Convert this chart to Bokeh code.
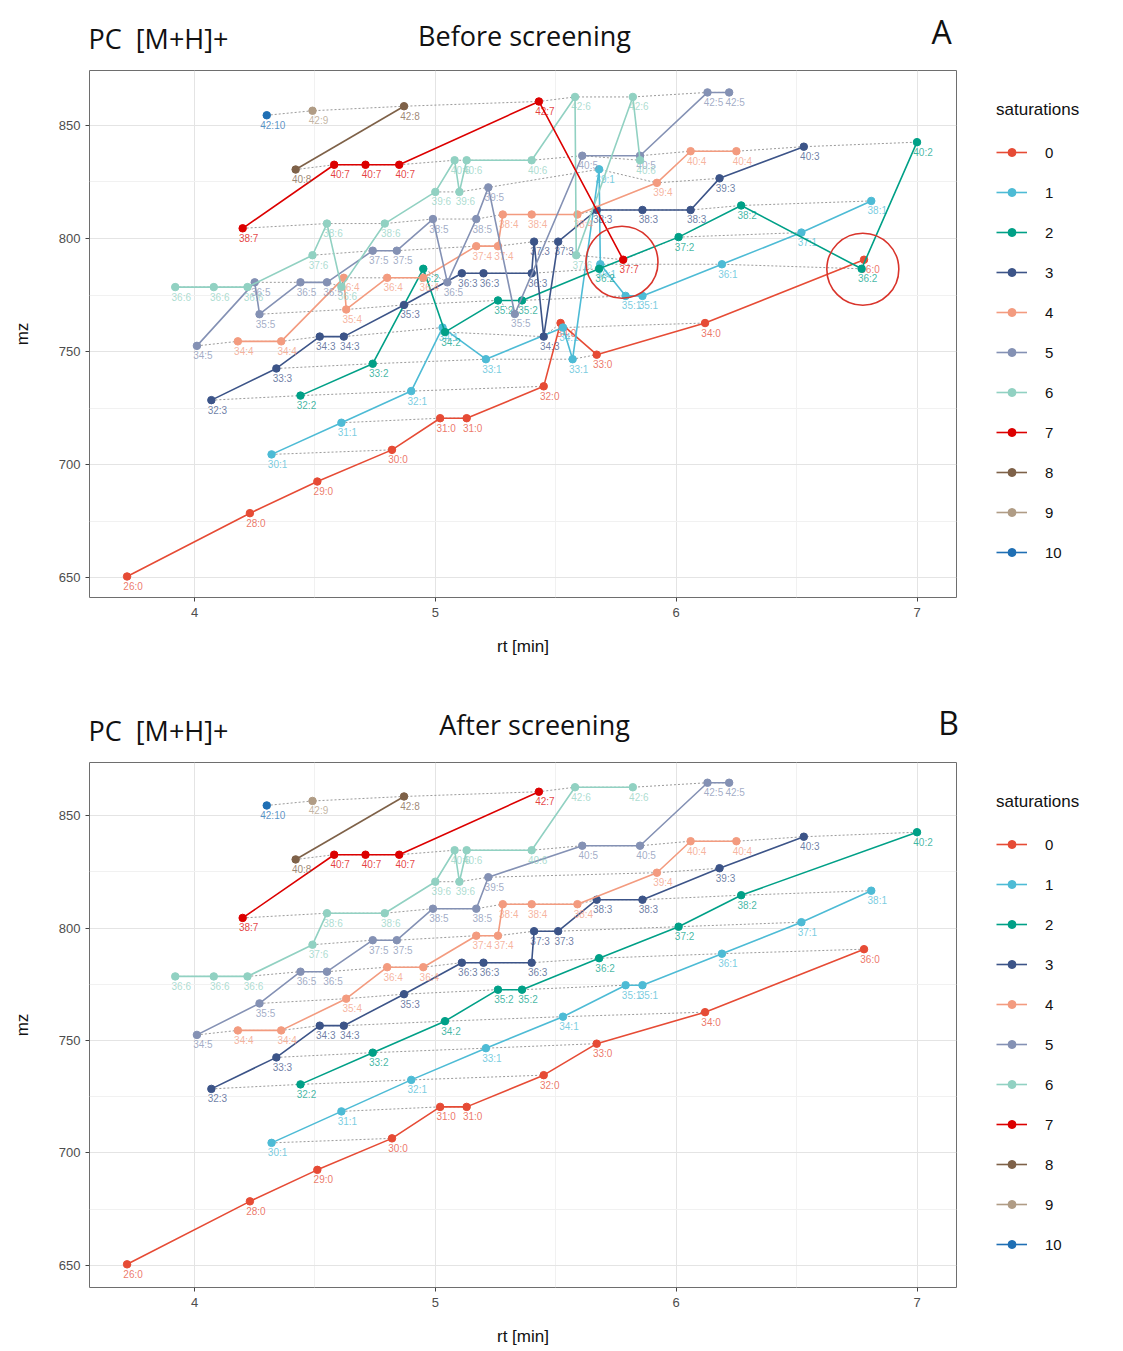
from bokeh.plotting import figure
from bokeh.models import ColumnDataSource, Legend, LegendItem, Label, FixedTicker, Range1d
from bokeh.layouts import column, row
from bokeh.embed import file_html
from bokeh.resources import INLINE
from bokeh.core.properties import value

# ---------------- data ----------------
SATURATIONS = [0, 1, 2, 3, 4, 5, 6, 7, 8, 9, 10]
PALETTE = ["#E64B35", "#4DBBD5", "#00A087", "#3C5488", "#F39B7F", "#8491B4",
           "#91D1C2", "#DC0000", "#7E6148", "#B09C85", "#1F6FB4"]

# After screening (kept features): retention time, m/z, carbon number
RT_0 = [3.72, 4.23, 4.51, 4.82, 5.02, 5.13, 5.45, 5.67, 6.12, 6.78]
MZ_0 = [650.5, 678.5, 692.5, 706.5, 720.5, 720.5, 734.6, 748.6, 762.6, 790.6]
C_0 = [26, 28, 29, 30, 31, 31, 32, 33, 34, 36]

RT_1 = [4.32, 4.61, 4.90, 5.21, 5.53, 5.79, 5.86, 6.19, 6.52, 6.81]
MZ_1 = [704.5, 718.5, 732.5, 746.6, 760.6, 774.6, 774.6, 788.6, 802.6, 816.6]
C_1 = [30, 31, 32, 33, 34, 35, 35, 36, 37, 38]

RT_2 = [4.44, 4.74, 5.04, 5.26, 5.36, 5.68, 6.01, 6.27, 7.00]
MZ_2 = [730.5, 744.6, 758.6, 772.6, 772.6, 786.6, 800.6, 814.6, 842.6]
C_2 = [32, 33, 34, 35, 35, 36, 37, 38, 40]

RT_3 = [4.07, 4.34, 4.52, 4.62, 4.87, 5.11, 5.20, 5.40, 5.41, 5.51, 5.67, 5.86, 6.18, 6.53]
MZ_3 = [728.5, 742.5, 756.6, 756.6, 770.6, 784.6, 784.6, 784.6, 798.6, 798.6, 812.6, 812.6, 826.6, 840.6]
C_3 = [32, 33, 34, 34, 35, 36, 36, 36, 37, 37, 38, 38, 39, 40]

RT_4 = [4.18, 4.36, 4.63, 4.80, 4.95, 5.17, 5.26, 5.28, 5.40, 5.59, 5.92, 6.06, 6.25]
MZ_4 = [754.5, 754.5, 768.6, 782.6, 782.6, 796.6, 796.6, 810.6, 810.6, 810.6, 824.6, 838.6, 838.6]
C_4 = [34, 34, 35, 36, 36, 37, 37, 38, 38, 38, 39, 40, 40]

RT_5 = [4.01, 4.27, 4.44, 4.55, 4.74, 4.84, 4.99, 5.17, 5.22, 5.61, 5.85, 6.13, 6.22]
MZ_5 = [752.5, 766.5, 780.6, 780.6, 794.6, 794.6, 808.6, 808.6, 822.6, 836.6, 836.6, 864.6, 864.6]
C_5 = [34, 35, 36, 36, 37, 37, 38, 38, 39, 40, 40, 42, 42]

RT_6 = [3.92, 4.08, 4.22, 4.49, 4.55, 4.79, 5.00, 5.08, 5.10, 5.13, 5.40, 5.58, 5.82]
MZ_6 = [778.5, 778.5, 778.5, 792.6, 806.6, 806.6, 820.6, 834.6, 820.6, 834.6, 834.6, 862.6, 862.6]
C_6 = [36, 36, 36, 37, 38, 38, 39, 40, 39, 40, 40, 42, 42]

RT_7 = [4.20, 4.58, 4.71, 4.85, 5.43]
MZ_7 = [804.5, 832.6, 832.6, 832.6, 860.6]
C_7 = [38, 40, 40, 40, 42]

RT_8 = [4.42, 4.87]
MZ_8 = [830.5, 858.5]
C_8 = [40, 42]

RT_9 = [4.49]
MZ_9 = [856.5]
C_9 = [42]

RT_10 = [4.30]
MZ_10 = [854.5]
C_10 = [42]

# Features removed by the screening (only in panel A)
EXTRA_SAT = [0, 1, 1, 1, 1, 2, 2, 3, 3, 4, 5, 5, 5, 6, 6, 6, 7]
EXTRA_RT = [5.52, 5.03, 5.57, 5.68, 5.685, 4.95, 6.77, 5.45, 6.06, 4.62, 4.25, 5.05, 5.33, 4.61, 5.585, 5.85, 5.78]
EXTRA_MZ = [762.6, 760.6, 746.6, 830.6, 788.6, 786.6, 786.6, 756.6, 812.6, 782.6, 780.6, 780.6, 766.6, 778.6, 792.6, 834.6, 790.6]
EXTRA_C = [34, 34, 33, 39, 36, 36, 36, 34, 38, 36, 36, 36, 35, 36, 37, 40, 37]

# highlighted outliers (red rings in panel A)
CIRCLE_RT = [5.775, 6.775]
CIRCLE_MZ = [789.5, 786.4]

X_TICKS = [4, 5, 6, 7]
Y_TICKS = [650, 700, 750, 800, 850]

RT_B = [RT_0, RT_1, RT_2, RT_3, RT_4, RT_5, RT_6, RT_7, RT_8, RT_9, RT_10]
MZ_B = [MZ_0, MZ_1, MZ_2, MZ_3, MZ_4, MZ_5, MZ_6, MZ_7, MZ_8, MZ_9, MZ_10]
C_B = [C_0, C_1, C_2, C_3, C_4, C_5, C_6, C_7, C_8, C_9, C_10]


def build_series(with_extra):
    series = {}
    for s in SATURATIONS:
        pts = list(zip(RT_B[s], MZ_B[s], C_B[s]))
        if with_extra:
            for es, er, em, ec in zip(EXTRA_SAT, EXTRA_RT, EXTRA_MZ, EXTRA_C):
                if es == s:
                    pts.append((er, em, ec))
        pts.sort(key=lambda t: t[0])
        series[s] = pts
    return series


X0, X1 = 3.564, 7.164
PLOT_W = 960
LEG_W = 1123 - PLOT_W


def blank(width, height, left=0):
    f = figure(width=width, height=height, x_range=Range1d(0, width), y_range=Range1d(0, height),
               output_backend="svg", toolbar_location=None, tools="",
               min_border=0, min_border_left=left, min_border_right=0,
               min_border_top=0, min_border_bottom=0)
    f.xaxis.visible = False
    f.yaxis.visible = False
    f.grid.visible = False
    f.outline_line_color = None
    f.background_fill_color = "white"
    f.border_fill_color = "white"
    return f


def make_header(height, tag, subtitle, pos):
    h = blank(1123, height)
    (x1, y1), (x2, y2), (x3, y3) = pos
    h.add_layout(Label(x=x1, y=height - y1, text="PC\u00a0 [M+H]+", text_font="Open Sans",
                       text_font_size="27px", text_color="#111111", text_baseline="middle",
                       text_align="left"))
    h.add_layout(Label(x=x2, y=height - y2, text=subtitle, text_font="Open Sans",
                       text_font_size="27px", text_color="#111111", text_baseline="middle",
                       text_align="center"))
    h.add_layout(Label(x=x3, y=height - y3, text=tag, text_font="Open Sans",
                       text_font_size="32px", text_color="#111111", text_baseline="middle",
                       text_align="center"))
    return h


def make_legend(series, height, top_px):
    # legend panel; its renderers carry the real series, which fall outside
    # this panel's pixel ranges and therefore only show up as legend keys
    lf = blank(LEG_W, height, left=6)
    items = []
    for s in SATURATIONS:
        col = PALETTE[s]
        pts = series[s]
        src = ColumnDataSource(dict(rt=[t[0] for t in pts], mz=[t[1] for t in pts]))
        lr = lf.line("rt", "mz", source=src, line_color=col, line_width=1.6)
        sr = lf.scatter("rt", "mz", source=src, size=7.5, marker="circle",
                        fill_color=col, line_color=col)
        items.append(LegendItem(label=str(s), renderers=[lr, sr]))
    legend = Legend(items=items, title="saturations", location="top_left",
                    orientation="vertical", padding=0, margin=top_px, spacing=20,
                    glyph_width=31, glyph_height=20, label_height=20,
                    label_standoff=18, border_line_color=None,
                    background_fill_alpha=0, title_standoff=22)
    legend.title_text_font = "Liberation Sans"
    legend.title_text_font_size = "17px"
    legend.title_text_font_style = "normal"
    legend.title_text_color = "#111111"
    legend.label_text_font = "Liberation Sans"
    legend.label_text_font_size = "15px"
    legend.label_text_color = "#111111"
    lf.add_layout(legend, "center")
    return lf


def make_panel(series, height, top, bottom, yr, circles):
    y0, y1 = yr
    p = figure(width=PLOT_W, height=height, x_range=Range1d(X0, X1), y_range=Range1d(y0, y1),
               output_backend="svg", toolbar_location=None, tools="",
               min_border_left=89, min_border_right=PLOT_W - 89 - 867,
               min_border_top=top, min_border_bottom=bottom)
    p.background_fill_color = "white"
    p.outline_line_color = "#6e6e6e"
    p.outline_line_width = 1

    p.xaxis.ticker = FixedTicker(ticks=X_TICKS, minor_ticks=[3.5, 4.5, 5.5, 6.5])
    p.yaxis.ticker = FixedTicker(ticks=Y_TICKS, minor_ticks=[675, 725, 775, 825, 875])
    p.xgrid.grid_line_color = "#e4e4e4"
    p.ygrid.grid_line_color = "#e4e4e4"
    p.xgrid.minor_grid_line_color = "#f1f1f1"
    p.ygrid.minor_grid_line_color = "#f1f1f1"
    for ax in (p.xaxis, p.yaxis):
        ax.axis_line_color = None
        ax.minor_tick_line_color = None
        ax.major_tick_line_color = "#444444"
        ax.major_tick_out = 4
        ax.major_tick_in = 0
        ax.major_label_text_font = "Liberation Sans"
        ax.major_label_text_font_size = "13px"
        ax.major_label_text_color = "#4d4d4d"
        ax.axis_label_text_font = "Liberation Sans"
        ax.axis_label_text_font_size = "17px"
        ax.axis_label_text_font_style = "normal"
        ax.axis_label_text_color = "#111111"
    p.xaxis.axis_label = "rt [min]"
    p.yaxis.axis_label = "mz"
    p.xaxis.axis_label_standoff = 17
    p.yaxis.axis_label_standoff = 24
    p.xaxis.major_label_standoff = 6
    p.yaxis.major_label_standoff = 5

    # dotted lines linking equal carbon numbers
    groups = {}
    for s in SATURATIONS:
        for r, m, c in series[s]:
            groups.setdefault(c, []).append((r, m))
    xs, ys = [], []
    for c in sorted(groups):
        g = sorted(groups[c])
        if len(g) > 1:
            xs.append([t[0] for t in g])
            ys.append([t[1] for t in g])
    p.multi_line(xs=xs, ys=ys, line_color="#8f8f8f", line_dash="2 2", line_width=1, line_alpha=0.9)

    for s in SATURATIONS:
        pts = series[s]
        src = ColumnDataSource(dict(rt=[t[0] for t in pts], mz=[t[1] for t in pts],
                                    lab=[f"{t[2]}:{s}" for t in pts]))
        col = PALETTE[s]
        p.line("rt", "mz", source=src, line_color=col, line_width=1.6)
        p.scatter("rt", "mz", source=src, size=7.5, marker="circle",
                  fill_color=col, line_color=col)
        p.text("rt", "mz", text="lab", source=src, text_font=value("Liberation Sans"),
               text_font_size="10px", text_color=col, text_alpha=0.75,
               text_align="center", text_baseline="middle", x_offset=6, y_offset=10)

    if circles:
        p.scatter(CIRCLE_RT, CIRCLE_MZ, size=72, marker="circle", fill_color=None,
                  line_color="#D9342B", line_width=1.6)
    return p


series_a = build_series(True)
series_b = build_series(False)

# Panel A: page y 0..690 ; header 62 + plot 628
ha = make_header(62, "A", "Before screening", ((88, 38), (524, 35), (941, 31)))
pa = make_panel(series_a, 628, 8, 93, (641.2, 874.3), True)
la = make_legend(series_a, 628, 30)

# Panel B: page y 690..1351 ; header 64 + plot 597
hb = make_header(64, "B", "After screening", ((88, 40), (534, 34), (948, 32)))
pb = make_panel(series_b, 597, 8, 64, (640.2, 873.6), False)
lb = make_legend(series_b, 597, 30)

layout = column(ha, row(pa, la, spacing=0), hb, row(pb, lb, spacing=0), spacing=0)
open("out.html", "w").write(file_html(layout, INLINE))
